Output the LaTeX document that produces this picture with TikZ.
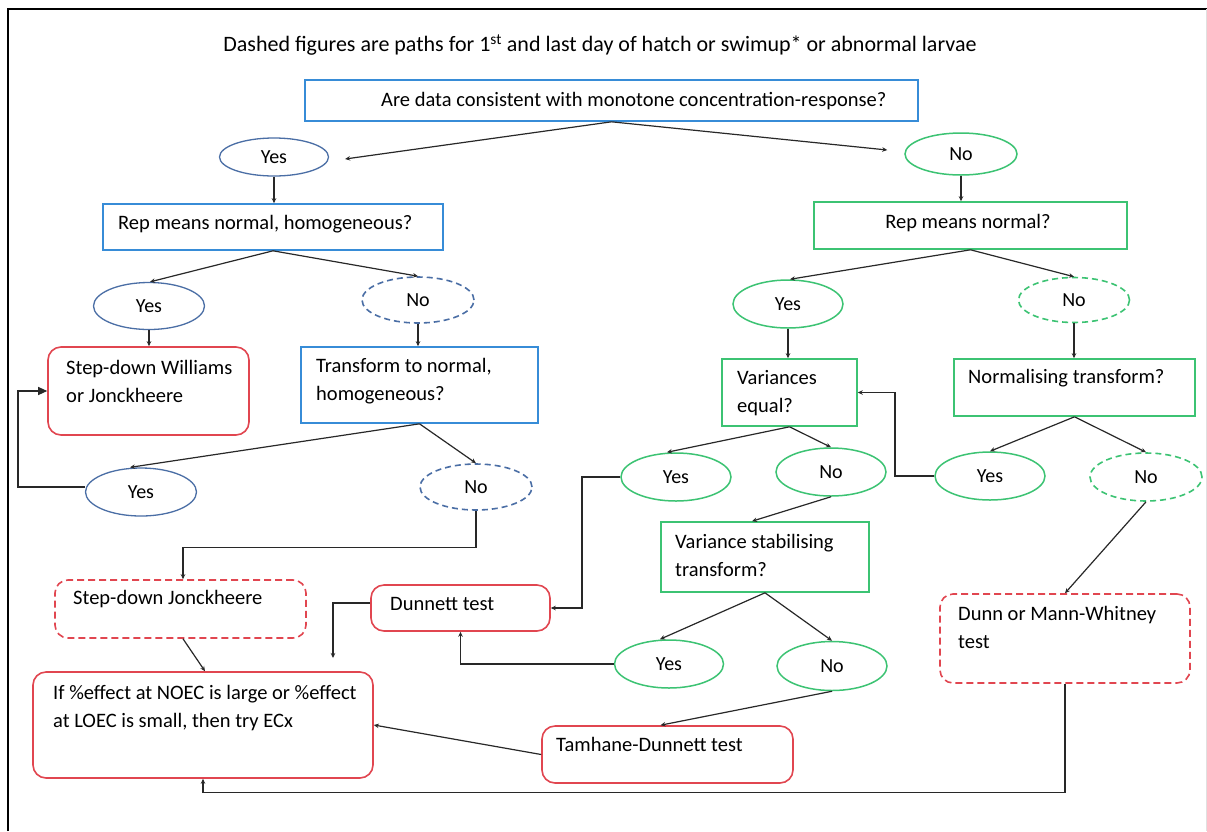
\documentclass[tikz,border=0pt]{standalone}
\usepackage{fontspec}
\setmainfont{Carlito}
\usetikzlibrary{shapes.geometric,arrows.meta}
\definecolor{boxblue}{RGB}{55,140,215}
\definecolor{ellblue}{RGB}{74,110,165}
\definecolor{grn}{RGB}{60,195,115}
\definecolor{rd}{RGB}{225,70,80}
\definecolor{ln}{RGB}{40,40,40}
\tikzset{
  txt/.style={inner sep=0pt, align=left, anchor=west, font=\fontsize{20.5}{28}\selectfont, text=black},
  bluebox/.style={draw=boxblue, line width=1.6pt, rectangle, inner sep=0pt},
  greenbox/.style={draw=grn, line width=1.6pt, rectangle, inner sep=0pt},
  redbox/.style={draw=rd, line width=1.6pt, rectangle, rounded corners=13pt, inner sep=0pt},
  redbox dashed/.style={redbox, dash pattern=on 7pt off 4pt},
  blueell/.style={draw=ellblue, line width=1.3pt, ellipse, inner sep=0pt, font=\fontsize{20}{22}\selectfont},
  greenell/.style={draw=grn, line width=1.5pt, ellipse, inner sep=0pt, font=\fontsize{20}{22}\selectfont},
  ell dashed/.style={dash pattern=on 6pt off 4pt, line width=1.6pt},
  conn/.style={draw=ln, line width=1.2pt, -{Stealth[length=5pt,width=4.5pt]}},
  bigconn/.style={draw=ln, line width=1.2pt, -{Triangle[length=9pt,width=8pt]}},
}
\begin{document}
\begin{tikzpicture}[x=1pt,y=-1pt]
\useasboundingbox (0,0) rectangle (1207,831);
\fill[white] (0,0) rectangle (1207,831);
% frame
\draw[line width=2pt, black] (8,831) -- (8,9) -- (1207,9);
\draw[line width=0.8pt, black!12] (1206,9) -- (1206,831);

% title
\node[txt, anchor=center, font=\fontsize{22}{26}\selectfont] (title) at (600,45) {Dashed figures are paths for 1\textsuperscript{st} and last day of hatch or swimup* or abnormal larvae};

% top question
\node[bluebox, minimum width=613pt, minimum height=41pt] (q1) at (611.5,100.5) {};
\node[txt] (q1t) at (381,101) {Are data consistent with monotone concentration-response?};

% level 1 ellipses
\node[blueell, minimum width=109pt, minimum height=38pt] (ey1) at (274,157) {Yes};
\node[greenell, minimum width=112pt, minimum height=42pt] (en1) at (961,154) {No};

% left branch
\node[bluebox, minimum width=340pt, minimum height=46pt] (brep) at (273,227) {};
\node[txt] (brept) at (118,224) {Rep means normal, homogeneous?};
\node[blueell, minimum width=111pt, minimum height=47pt] (ey2) at (149,306) {Yes};
\node[blueell, ell dashed, minimum width=112pt, minimum height=46pt] (en2) at (418,300) {No};
\node[redbox, minimum width=201pt, minimum height=88pt] (bsdw) at (148.5,391) {};
\node[txt] (bsdwt) at (66,381) {Step-down Williams\\or Jonckheere};
\node[bluebox, minimum width=237pt, minimum height=76pt] (btrn) at (419.5,385) {};
\node[txt] (btrnt) at (316,381.5) {Transform to normal,\\homogeneous?};
\node[blueell, minimum width=111pt, minimum height=48pt] (ey3) at (141,492) {Yes};
\node[blueell, ell dashed, minimum width=112pt, minimum height=46pt] (en3) at (476,487) {No};
\node[redbox dashed, minimum width=251pt, minimum height=58pt] (bsdj) at (180.5,609) {};
\node[txt] (bsdjt) at (73,599) {Step-down Jonckheere};
\node[redbox, minimum width=179pt, minimum height=46pt] (bdun) at (460.5,608) {};
\node[txt] (bdunt) at (390,604) {Dunnett test};
\node[redbox, minimum width=340pt, minimum height=106pt] (bif) at (203,725) {};
\node[txt] (bift) at (53,708) {If \%effect at NOEC is large or \%effect\\at LOEC is small, then try ECx};
\node[redbox, minimum width=251pt, minimum height=57pt] (btam) at (667.5,754.5) {};
\node[txt] (btamt) at (556,744) {Tamhane-Dunnett test};

% right branch
\node[greenbox, minimum width=313pt, minimum height=47pt] (brmn) at (970.5,225.5) {};
\node[txt, anchor=center] (brmnt) at (968,223) {Rep means normal?};
\node[greenell, minimum width=110pt, minimum height=48pt] (ey4) at (788,304) {Yes};
\node[greenell, ell dashed, minimum width=111pt, minimum height=45pt] (en4) at (1074,300) {No};
\node[greenbox, minimum width=135pt, minimum height=67pt] (bve) at (789.5,392.5) {};
\node[txt] (bvet) at (737,393) {Variances\\equal?};
\node[greenbox, minimum width=241pt, minimum height=57pt] (bnt) at (1074.5,387.5) {};
\node[txt] (bntt) at (968,378) {Normalising transform?};
\node[greenell, minimum width=110pt, minimum height=48pt] (ey5) at (676,477) {Yes};
\node[greenell, minimum width=110pt, minimum height=48pt] (en5) at (831,472) {No};
\node[greenell, minimum width=110pt, minimum height=48pt] (ey6) at (990,476) {Yes};
\node[greenell, ell dashed, minimum width=112pt, minimum height=48pt] (en6) at (1146,477) {No};
\node[greenbox, minimum width=208pt, minimum height=70pt] (bvst) at (765,557) {};
\node[txt] (bvstt) at (675,555) {Variance stabilising\\transform?};
\node[greenell, minimum width=109pt, minimum height=48pt] (ey7) at (669,664) {Yes};
\node[greenell, minimum width=110pt, minimum height=49pt] (en7) at (832,666) {No};
\node[redbox dashed, minimum width=250pt, minimum height=89pt] (bdmw) at (1065,638.5) {};
\node[txt] (bdmwt) at (958,627.5) {Dunn or Mann-Whitney\\test};

% connectors
\draw[conn] (q1.south) -- ([xshift=16pt,yshift=-2pt]ey1.east);
\draw[conn] (q1.south) -- ([xshift=-17pt,yshift=4pt]en1.west);
\draw[conn] (ey1.south) -- (ey1.south |- brep.north);
\draw[conn] (en1.south) -- (en1.south |- brmn.north);

\draw[conn] (brep.south) -- ([xshift=1pt]ey2.north);
\draw[conn] (brep.south) -- (en2.north);
\draw[conn] (ey2.south) -- (ey2.south |- bsdw.north);
\draw[conn] (en2.south) -- (en2.south |- btrn.north);
\draw[conn] (btrn.south) -- ([xshift=-11pt]ey3.north);
\draw[conn] (btrn.south) -- (en3.north);
\draw[bigconn] ([yshift=5pt]ey3.west) -- (18,487) |- (bsdw.west);
\draw[conn] (en3.south) -- ++(0,37) -| ([xshift=2.5pt]bsdj.north);
\draw[conn] ([xshift=2.5pt]bsdj.south) -- ([xshift=2pt]bif.north);
\coordinate (dunfree) at (333,658);
\draw[conn] ([yshift=5pt]bdun.west) -| (dunfree);
\draw[conn] (btam.west) -- (bif.east);
\draw[conn] (bdmw.south) -- ++(0,109) -| (bif.south);

\draw[conn] (brmn.south) -- ([xshift=2pt]ey4.north);
\draw[conn] (brmn.south) -- (en4.north);
\draw[conn] (ey4.south) -- (ey4.south |- bve.north);
\draw[conn] (en4.south) -- (en4.south |- bnt.north);
\draw[conn] (bve.south) -- ([xshift=-9pt]ey5.north);
\draw[conn] (bve.south) -- (en5.north);
\draw[conn] (bnt.south) -- (ey6.north);
\draw[conn] (bnt.south) -- (en6.north);
\draw[conn] (ey5.west) -- (582,477) |- (bdun.east);
\draw[conn] (ey6.west) -- (895,476) |- (bve.east);
\draw[conn] (en5.south) -- ([xshift=-13pt]bvst.north);
\draw[conn] (bvst.south) -- ([xshift=-9pt]ey7.north);
\draw[conn] (bvst.south) -- (en7.north);
\draw[conn] (ey7.west) -| (bdun.south);
\draw[conn] (en7.south) -- ([xshift=-7pt]btam.north);
\draw[conn] (en6.south) -- (bdmw.north);
\end{tikzpicture}
\end{document}
